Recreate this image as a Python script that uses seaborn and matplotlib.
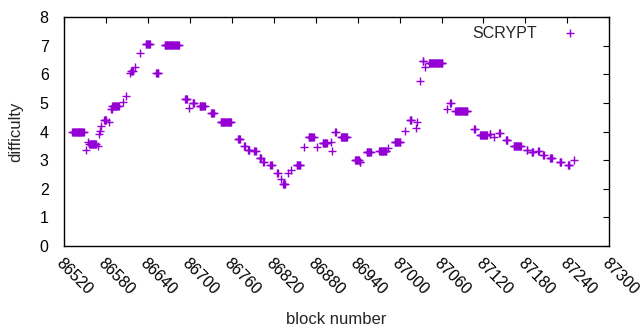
import numpy as np
import pandas as pd
import matplotlib
matplotlib.use("Agg")
import matplotlib.pyplot as plt
import seaborn as sns

# ------------------- Data (runs of constant difficulty) -------------------- #
run_start = [86532, 86552, 86554, 86556, 86569, 86570, 86572, 86573, 86577, 86584,
             86587, 86589, 86604, 86608, 86615, 86616, 86622, 86629, 86637, 86652,
             86664, 86693, 86699, 86704, 86714, 86730, 86744, 86769, 86778, 86783,
             86792, 86800, 86805, 86815, 86825, 86830, 86833, 86841, 86845, 86853,
             86863, 86870, 86882, 86890, 86902, 86903, 86908, 86916, 86936, 86943,
             86953, 86971, 86984, 86993, 87008, 87015, 87024, 87025, 87029, 87033,
             87036, 87042, 87068, 87072, 87080, 87107, 87115, 87129, 87135, 87142,
             87152, 87163, 87182, 87189, 87198, 87205, 87215, 87229, 87241, 87249]
run_end = [86548, 86552, 86554, 86566, 86569, 86570, 86572, 86573, 86580, 86584,
           86588, 86598, 86604, 86608, 86615, 86618, 86622, 86629, 86643, 86655,
           86684, 86696, 86699, 86706, 86721, 86734, 86759, 86772, 86779, 86785,
           86794, 86802, 86806, 86817, 86826, 86830, 86836, 86841, 86845, 86858,
           86863, 86877, 86882, 86896, 86902, 86903, 86909, 86925, 86942, 86944,
           86959, 86981, 86984, 87001, 87008, 87017, 87024, 87025, 87029, 87034,
           87036, 87061, 87068, 87073, 87097, 87108, 87125, 87130, 87135, 87143,
           87154, 87174, 87183, 87191, 87199, 87206, 87218, 87231, 87243, 87249]
run_value = [3.98, 3.36, 3.65, 3.57, 3.48, 3.92, 4.03, 4.20, 4.41, 4.33,
             4.80, 4.88, 5.04, 5.24, 6.05, 6.10, 6.27, 6.73, 7.06, 6.04,
             7.02, 5.12, 4.83, 5.01, 4.90, 4.65, 4.33, 3.73, 3.51, 3.36,
             3.31, 3.07, 2.94, 2.82, 2.56, 2.33, 2.15, 2.55, 2.65, 2.82,
             3.45, 3.80, 3.45, 3.60, 3.65, 3.33, 3.98, 3.80, 3.01, 2.92,
             3.27, 3.33, 3.42, 3.65, 4.03, 4.41, 4.13, 4.33, 5.75, 6.48,
             6.27, 6.41, 4.77, 5.00, 4.72, 4.10, 3.88, 3.90, 3.80, 3.94,
             3.72, 3.51, 3.36, 3.27, 3.31, 3.19, 3.09, 2.94, 2.82, 3.01]

x_ticks = list(range(86520, 87301, 60))
y_ticks = list(range(0, 9))

# expand runs into one point per block
blocks, diffs = [], []
for s, e, v in zip(run_start, run_end, run_value):
    for b in range(s, e + 1):
        blocks.append(b)
        diffs.append(v)
df = pd.DataFrame({"block": blocks, "difficulty": diffs})

# ------------------- Plot -------------------- #
sns.set_style("white")
plt.rcParams['font.family'] = ['Liberation Sans', 'DejaVu Sans']

fig = plt.figure(figsize=(6.4, 3.3), dpi=100)
ax = fig.add_axes([0.1, 0.255, 0.852, 0.693])

sns.scatterplot(data=df, x="block", y="difficulty", marker="+", s=36,
                color="#9400d3", linewidth=1.0, ax=ax, label="SCRYPT", legend=False)

ax.set_xlim(86520, 87300)
ax.set_ylim(0, 8)
ax.set_xticks(x_ticks)
ax.set_yticks(y_ticks)
ax.set_xticklabels([str(t) for t in x_ticks], rotation=-45, ha="left", va="top",
                   rotation_mode="anchor", fontsize=11.5)
ax.set_yticklabels([str(t) for t in y_ticks], fontsize=11.5)
ax.tick_params(direction="in", length=4, width=0.8, top=True, right=True,
               labeltop=False, labelright=False, colors="black")
ax.tick_params(axis="x", pad=7)
ax.tick_params(axis="y", pad=11)
for sp in ax.spines.values():
    sp.set_color("black")
    sp.set_linewidth(1.0)

ax.set_xlabel("block number", fontsize=12, labelpad=10)
ax.set_ylabel("difficulty", fontsize=12, labelpad=12)

leg = ax.legend(loc="upper right", frameon=False, markerfirst=False, fontsize=11.5,
                handletextpad=1.1, borderaxespad=0.3, bbox_to_anchor=(0.978, 1.012))

fig.savefig("out.png", dpi=100)
